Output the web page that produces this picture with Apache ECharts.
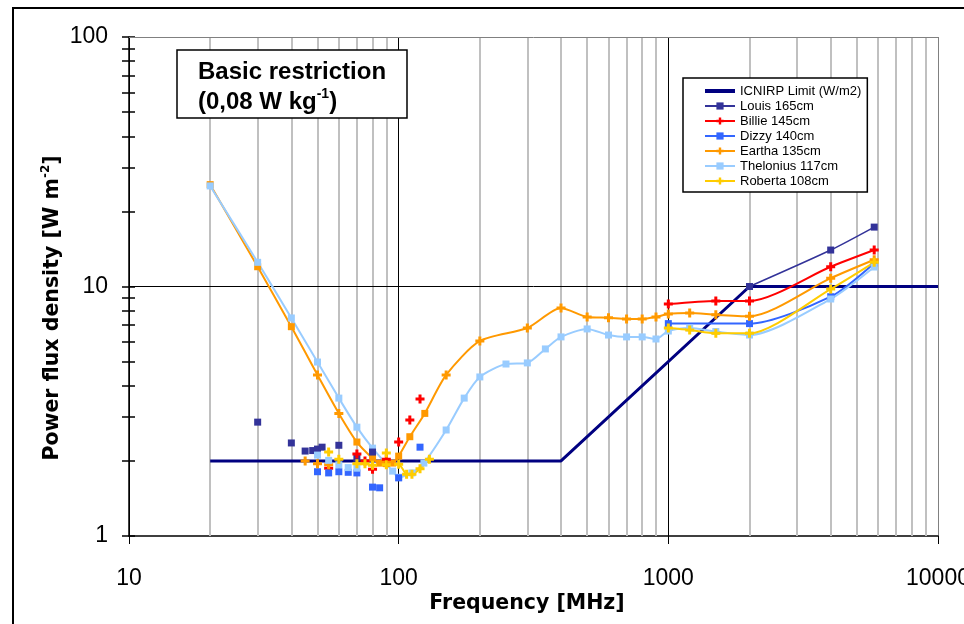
<!DOCTYPE html>
<html><head><meta charset="utf-8">
<script src="https://cdn.jsdelivr.net/npm/echarts@6/dist/echarts.min.js"></script>
<style>html,body{margin:0;padding:0;background:#fff;overflow:hidden}#c{width:964px;height:624px}</style>
</head><body><div id="c"></div>
<script>
// ---- tick / grid values ----
const xMinorGrid = [20,30,40,50,60,70,80,90,200,300,400,500,600,700,800,900,2000,3000,4000,5000,6000,7000,8000,9000];
const yMinorTicks = [1,2,3,4,5,6,7,8,9,10,20,30,40,50,60,70,80,90,100];
const yMajorLines = [10, 100];

// ---- series names ----
const names = ['ICNIRP Limit (W/m2)', 'Louis 165cm', 'Billie 145cm', 'Dizzy 140cm', 'Eartha 135cm', 'Thelonius 117cm', 'Roberta 108cm'];

// ---- data ----
const limitFreq = [20, 400, 2000, 10000];
const limitVal  = [2, 2, 10, 10];

const louisLowFreq  = [30, 40, 45, 48, 50, 52, 60, 70, 80];
const louisLowVal   = [2.86, 2.36, 2.19, 2.2, 2.23, 2.27, 2.31, 2.05, 2.17];
const louisFreq     = [2000, 4000, 5800];
const louisVal      = [10.0, 14.0, 17.3];

const billieLowFreq = [55, 70, 75, 80, 90, 100, 110, 120];
const billieLowVal  = [1.87, 2.13, 2.0, 1.85, 2.03, 2.38, 2.92, 3.54];
const billieFreq    = [1000, 1500, 2000, 4000, 5800];
const billieVal     = [8.5, 8.75, 8.75, 12.0, 14.0];

const dizzyLowFreq  = [50, 55, 60, 65, 70, 80, 85, 100, 120];
const dizzyLowVal   = [1.81, 1.79, 1.81, 1.8, 1.79, 1.57, 1.56, 1.71, 2.27];
const dizzyFreq     = [1000, 2000, 4000, 5800];
const dizzyVal      = [7.1, 7.1, 9.1, 12.4];

const earthaFreq = [20, 30, 40, 50, 60, 70, 80, 85, 90, 95, 100, 110, 125, 150, 200, 300, 400, 500, 600, 700, 800, 900, 1000, 1200, 1500, 2000, 4000, 5800];
const earthaVal  = [25.6, 12.0, 6.9, 4.42, 3.1, 2.38, 2.05, 1.96, 1.95, 1.96, 2.09, 2.5, 3.1, 4.42, 6.05, 6.82, 8.2, 7.55, 7.5, 7.41, 7.41, 7.55, 7.76, 7.83, 7.7, 7.6, 10.8, 12.8];
const earthaLowFreq = [45, 50, 55];
const earthaLowVal  = [2.0, 1.95, 1.93];

const theloniusFreq = [20, 30, 40, 50, 60, 70, 80, 95, 100, 112, 124, 150, 175, 200, 250, 300, 350, 400, 500, 600, 700, 800, 900, 1000, 1200, 1500, 2000, 4000, 5800];
const theloniusVal  = [25.3, 12.5, 7.48, 4.98, 3.57, 2.73, 2.25, 1.82, 1.72, 1.79, 1.96, 2.66, 3.57, 4.34, 4.89, 4.94, 5.62, 6.28, 6.76, 6.39, 6.28, 6.28, 6.16, 6.63, 6.82, 6.6, 6.39, 8.91, 11.97];
const theloniusLowFreq = [50, 55, 60, 65, 70];
const theloniusLowVal  = [2.11, 2.01, 1.93, 1.88, 1.87];

const robertaLowFreq = [70, 75, 80, 90, 100, 107, 112, 120, 130];
const robertaLowVal  = [1.95, 1.95, 1.92, 1.93, 1.94, 1.77, 1.77, 1.86, 2.03];
const robertaDotFreq = [55, 60, 90];
const robertaDotVal  = [2.17, 2.03, 2.15];
const robertaFreq    = [1000, 1200, 1500, 2000, 4000, 5800];
const robertaVal     = [6.82, 6.7, 6.5, 6.5, 9.77, 12.5];

// ---- helpers ----
const PLUS = 'path://M3,0H6V3H9V6H6V9H3V6H0V3H3Z';
const pair = (F, V) => F.map((f, i) => [f, V[i]]);
const FONT = '"Liberation Sans", Arial, sans-serif';

function line(name, color, F, V, symbol, size, width, extra) {
  return Object.assign({
    name, type: 'line', data: pair(F, V), smooth: 0.25,
    symbol, symbolSize: size, showSymbol: true, showAllSymbol: true,
    itemStyle: { color }, lineStyle: { color, width },
    z: 3, animation: false, silent: true
  }, extra || {});
}
function dots(name, color, F, V, symbol, size) {
  return { name, type: 'scatter', data: pair(F, V), symbol, symbolSize: size,
    itemStyle: { color, opacity: 1 }, z: 3, animation: false, silent: true };
}

const earthaData = pair(earthaFreq, earthaVal).map(p => ({
  value: p,
  symbol: (p[0] <= 40 || (p[0] >= 70 && p[0] <= 125)) ? 'rect' : PLUS,
  symbolSize: (p[0] <= 40 || (p[0] >= 70 && p[0] <= 125)) ? 7 : 9
}));

const gridLines = xMinorGrid.map(v => ({ xAxis: v, lineStyle: { color: '#c0c0c0', width: 2, type: 'solid' } }))
  .concat([{ yAxis: yMajorLines[0], lineStyle: { color: '#000', width: 1, type: 'solid' } },
           { yAxis: yMajorLines[1], lineStyle: { color: '#808080', width: 1, type: 'solid' } }]);

const chart = echarts.init(document.getElementById('c'), null, { renderer: 'canvas' });
chart.setOption({
  animation: false,
  backgroundColor: '#fff',
  grid: { left: 129, right: 26, top: 37, bottom: 88, containLabel: false, outerBoundsMode: 'none' },
  xAxis: {
    type: 'log', logBase: 10, min: 10, max: 10000,
    axisLine: { lineStyle: { color: '#000', width: 1.5 } },
    axisTick: { show: true, inside: false, length: 8, lineStyle: { color: '#000', width: 1 } },
    axisLabel: { fontFamily: FONT, fontSize: 23, color: '#000', margin: 31, formatter: v => String(Math.round(v)) },
    splitLine: { show: true, lineStyle: { color: ['#000', '#000', '#000', '#808080'], width: 1 } },
    minorTick: { show: false }
  },
  yAxis: [{
    type: 'log', logBase: 10, min: 1, max: 100,
    axisLine: { show: true, lineStyle: { color: '#000', width: 1.5 } },
    axisTick: { show: true, inside: false, length: 7, customValues: yMinorTicks, lineStyle: { color: '#000', width: 1.5 } },
    axisLabel: { fontFamily: FONT, fontSize: 23, color: '#000', margin: 21, formatter: v => String(Math.round(v)) },
    splitLine: { show: false }
  }, {
    type: 'log', logBase: 10, min: 1, max: 100, position: 'left',
    axisLine: { show: false },
    axisTick: { show: true, inside: true, length: 6, customValues: yMinorTicks, lineStyle: { color: '#000', width: 1.5 } },
    axisLabel: { show: false },
    splitLine: { show: false }
  }],
  legend: {
    orient: 'vertical', left: 683, top: 78, align: 'left',
    padding: [6, 6, 4, 20],
    itemWidth: 30, itemHeight: 9, itemGap: 1,
    borderColor: '#000', borderWidth: 1.5, backgroundColor: '#fff',
    textStyle: { fontFamily: FONT, fontSize: 13, color: '#000', lineHeight: 14 },
    data: [{ name: names[0], itemStyle: { opacity: 0 }, lineStyle: { width: 4 } }].concat(names.slice(1)),
    selectedMode: false, z: 10
  },
  series: [
    { name: '_grid', type: 'line', data: [], silent: true, z: 1,
      markLine: { silent: true, symbol: ['none', 'none'], label: { show: false }, animation: false, z: 1, data: gridLines } },
    line(names[0], '#000080', limitFreq, limitVal, 'none', 0, 3, { smooth: false, z: 2 }),
    line(names[1], '#333399', louisFreq, louisVal, 'rect', 7, 1.5),
    line(names[2], '#ff0000', billieFreq, billieVal, PLUS, 9, 2),
    line(names[3], '#3366ff', dizzyFreq, dizzyVal, 'rect', 7, 2),
    Object.assign(line(names[4], '#ff9900', earthaFreq, earthaVal, PLUS, 9, 2), { data: earthaData }),
    line(names[5], '#99ccff', theloniusFreq, theloniusVal, 'rect', 7, 2),
    line(names[6], '#ffcc00', robertaFreq, robertaVal, PLUS, 9, 2),
    dots('Louis low', '#333399', louisLowFreq, louisLowVal, 'rect', 7),
    dots('Billie low', '#ff0000', billieLowFreq, billieLowVal, PLUS, 9),
    dots('Dizzy low', '#3366ff', dizzyLowFreq, dizzyLowVal, 'rect', 7),
    dots('Eartha low', '#ff9900', earthaLowFreq, earthaLowVal, PLUS, 9),
    dots('Thelonius low', '#99ccff', theloniusLowFreq, theloniusLowVal, 'rect', 7),
    line('Roberta low', '#ffcc00', robertaLowFreq, robertaLowVal, PLUS, 9, 2),
    dots('Roberta dots', '#ffcc00', robertaDotFreq, robertaDotVal, PLUS, 9)
  ],
  graphic: [
    { type: 'rect', shape: { x: 13, y: 8, width: 1000, height: 1000 }, style: { fill: 'none', stroke: '#000', lineWidth: 2 }, z: 20, silent: true },
    { type: 'rect', shape: { x: 177, y: 50, width: 230, height: 68 }, style: { fill: '#fff', stroke: '#000', lineWidth: 1.5 }, z: 20, silent: true },
    { type: 'text', x: 198, y: 57, z: 21, silent: true,
      style: { text: '{a|Basic restriction}\n{a|(0,08 W kg}{s|-1}{a|)}',
        rich: { a: { fontFamily: FONT, fontWeight: 'bold', fontSize: 24, lineHeight: 30, fill: '#000', color: '#000' },
                s: { fontFamily: FONT, fontWeight: 'bold', fontSize: 14, lineHeight: 20, verticalAlign: 'top', fill: '#000', color: '#000' } } } },
    { type: 'text', x: 527, y: 604, z: 21, silent: true,
      style: { text: 'Frequency [MHz]', font: 'bold 20.5px "DejaVu Sans", sans-serif', fill: '#000', align: 'center', verticalAlign: 'middle', textAlign: 'center', textVerticalAlign: 'middle' } },
    { type: 'text', x: 53, y: 308, rotation: Math.PI / 2, z: 21, silent: true,
      style: { text: '{a|Power flux density [W m}{s|-2}{a|]}', align: 'center', verticalAlign: 'middle', textAlign: 'center', textVerticalAlign: 'middle',
        rich: { a: { fontFamily: '"DejaVu Sans", sans-serif', fontWeight: 'bold', fontSize: 20.5, lineHeight: 26, fill: '#000', color: '#000' },
                s: { fontFamily: '"DejaVu Sans", sans-serif', fontWeight: 'bold', fontSize: 12, lineHeight: 16, verticalAlign: 'top', fill: '#000', color: '#000' } } } }
  ]
});
</script>
</body></html>
